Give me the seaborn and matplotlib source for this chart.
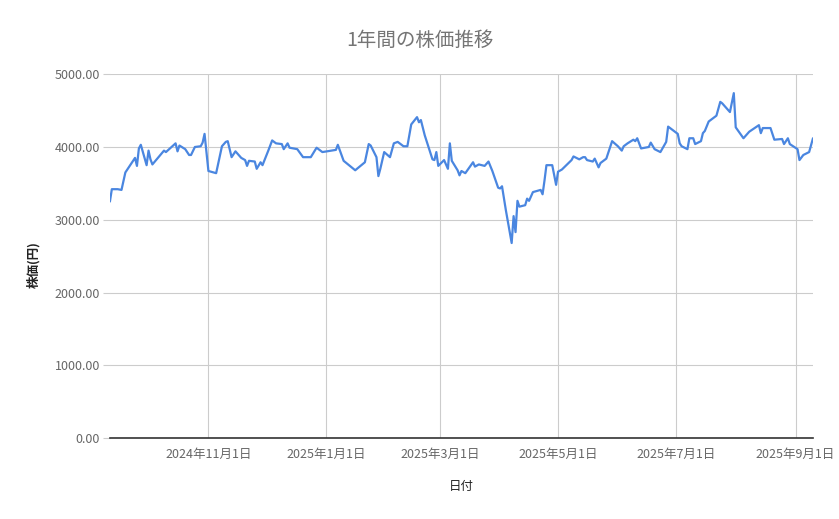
import pandas as pd
import matplotlib
matplotlib.use("Agg")
import matplotlib.pyplot as plt
import matplotlib.ticker as mticker
import seaborn as sns

# values (approximate)
dates = [
    "2024-09-11", "2024-09-12", "2024-09-15", "2024-09-17", "2024-09-19", "2024-09-20",
    "2024-09-24", "2024-09-25", "2024-09-26", "2024-09-27", "2024-09-30", "2024-10-01",
    "2024-10-02", "2024-10-03", "2024-10-09", "2024-10-10", "2024-10-15", "2024-10-16",
    "2024-10-17", "2024-10-20", "2024-10-22", "2024-10-23", "2024-10-25", "2024-10-28",
    "2024-10-29", "2024-10-30", "2024-11-01", "2024-11-05", "2024-11-08", "2024-11-10",
    "2024-11-11", "2024-11-13", "2024-11-15", "2024-11-18", "2024-11-20", "2024-11-21",
    "2024-11-22", "2024-11-25", "2024-11-26", "2024-11-28", "2024-11-29", "2024-12-02",
    "2024-12-04", "2024-12-06", "2024-12-09", "2024-12-10", "2024-12-12", "2024-12-13",
    "2024-12-17", "2024-12-20", "2024-12-24", "2024-12-27", "2024-12-30", "2025-01-06",
    "2025-01-07", "2025-01-10", "2025-01-16", "2025-01-21", "2025-01-23", "2025-01-24",
    "2025-01-27", "2025-01-28", "2025-01-29", "2025-01-31", "2025-02-03", "2025-02-05",
    "2025-02-07", "2025-02-10", "2025-02-12", "2025-02-14", "2025-02-17", "2025-02-18",
    "2025-02-19", "2025-02-21", "2025-02-25", "2025-02-26", "2025-02-27", "2025-02-28",
    "2025-03-03", "2025-03-05", "2025-03-06", "2025-03-07", "2025-03-10", "2025-03-11",
    "2025-03-12", "2025-03-14", "2025-03-18", "2025-03-19", "2025-03-21", "2025-03-24",
    "2025-03-26", "2025-03-28", "2025-03-31", "2025-04-01", "2025-04-02", "2025-04-04",
    "2025-04-07", "2025-04-08", "2025-04-09", "2025-04-10", "2025-04-11", "2025-04-14",
    "2025-04-15", "2025-04-16", "2025-04-18", "2025-04-22", "2025-04-23", "2025-04-24",
    "2025-04-25", "2025-04-28", "2025-04-30", "2025-05-01", "2025-05-03", "2025-05-08",
    "2025-05-09", "2025-05-12", "2025-05-14", "2025-05-15", "2025-05-16", "2025-05-19",
    "2025-05-20", "2025-05-22", "2025-05-23", "2025-05-26", "2025-05-29", "2025-06-01",
    "2025-06-03", "2025-06-04", "2025-06-06", "2025-06-09", "2025-06-10", "2025-06-11",
    "2025-06-13", "2025-06-17", "2025-06-18", "2025-06-20", "2025-06-23", "2025-06-26",
    "2025-06-27", "2025-07-02", "2025-07-03", "2025-07-04", "2025-07-07", "2025-07-08",
    "2025-07-10", "2025-07-11", "2025-07-14", "2025-07-15", "2025-07-16", "2025-07-18",
    "2025-07-22", "2025-07-24", "2025-07-25", "2025-07-29", "2025-07-31", "2025-08-01",
    "2025-08-05", "2025-08-08", "2025-08-13", "2025-08-14", "2025-08-15", "2025-08-19",
    "2025-08-21", "2025-08-25", "2025-08-26", "2025-08-28", "2025-08-29", "2025-09-02",
    "2025-09-03", "2025-09-05", "2025-09-08", "2025-09-10",
]
prices = [
    3250, 3420, 3420, 3410, 3650, 3690,
    3850, 3740, 3980, 4030, 3750, 3950,
    3830, 3760, 3950, 3930, 4050, 3940,
    4020, 3970, 3890, 3890, 4000, 4010,
    4060, 4180, 3670, 3640, 4010, 4070,
    4080, 3860, 3940, 3850, 3820, 3740,
    3810, 3800, 3700, 3790, 3750, 3950,
    4090, 4050, 4040, 3970, 4050, 3990,
    3970, 3860, 3860, 3990, 3930, 3960,
    4030, 3810, 3680, 3790, 4040, 4020,
    3860, 3600, 3700, 3930, 3860, 4050,
    4070, 4010, 4010, 4310, 4410, 4340,
    4370, 4160, 3830, 3820, 3930, 3740,
    3820, 3700, 4050, 3810, 3680, 3610,
    3670, 3640, 3790, 3730, 3760, 3740,
    3800, 3670, 3440, 3430, 3460, 3130,
    2680, 3050, 2830, 3260, 3180, 3200,
    3290, 3260, 3380, 3410, 3350, 3540,
    3750, 3750, 3480, 3660, 3690, 3820,
    3870, 3830, 3860, 3860, 3820, 3800,
    3840, 3720, 3780, 3840, 4080, 4010,
    3950, 4010, 4050, 4100, 4080, 4120,
    3980, 4000, 4060, 3970, 3930, 4070,
    4280, 4180, 4050, 4010, 3970, 4120,
    4120, 4040, 4080, 4190, 4220, 4350,
    4430, 4620, 4600, 4480, 4740, 4270,
    4120, 4210, 4300, 4190, 4260, 4260,
    4100, 4110, 4040, 4120, 4040, 3970,
    3820, 3890, 3930, 4120,
]
tick_dates = ["2024-11-01", "2025-01-01", "2025-03-01", "2025-05-01", "2025-07-01", "2025-09-01"]
y_ticks = [0, 1000, 2000, 3000, 4000, 5000]

df = pd.DataFrame({"date": pd.to_datetime(dates), "price": prices})

sns.set_theme(style="white")
plt.rcParams["font.family"] = ["Noto Sans CJK JP", "DejaVu Sans"]

fig = plt.figure(figsize=(8.39, 5.19), dpi=100)
ax = fig.add_axes([0.131, 0.156, 0.838, 0.701])

sns.lineplot(data=df, x="date", y="price", color="#4a86e0", linewidth=1.6, ax=ax)

ax.set_xlim(df["date"].min(), df["date"].max())
ax.set_ylim(0, 5000)
ax.set_yticks(y_ticks)
ax.yaxis.set_major_formatter(mticker.FormatStrFormatter("%.2f"))
ticks = pd.to_datetime(tick_dates)
ax.set_xticks(ticks)
ax.set_xticklabels([f"{t.year}年{t.month}月{t.day}日" for t in ticks])

ax.grid(True, color="#cccccc", linewidth=0.8)
for s in ["top", "right", "left"]:
    ax.spines[s].set_visible(False)
ax.spines["bottom"].set_color("#333333")
ax.spines["bottom"].set_linewidth(1.2)
ax.spines["bottom"].set_zorder(3)

ax.tick_params(axis="y", length=5, width=0.8, color="#cccccc", pad=2, labelsize=9, labelcolor="#666666", left=True)
ax.tick_params(axis="x", length=0, pad=7, labelsize=9, labelcolor="#666666")

# title is centred on the whole figure, not on the plot area
fig.text(0.5, 0.923, "1年間の株価推移", fontsize=14, color="#757575", ha="center", va="center")
ax.set_xlabel("日付", fontsize=9, color="#222222")
ax.set_ylabel("株価(円)", fontsize=9, color="#222222", fontweight="bold")
ax.xaxis.label.set_va("center")
ax.yaxis.label.set_va("center")
ax.xaxis.set_label_coords(0.5, -0.132)
ax.yaxis.set_label_coords(-0.108, 0.478)

fig.savefig("out.png", dpi=100)
